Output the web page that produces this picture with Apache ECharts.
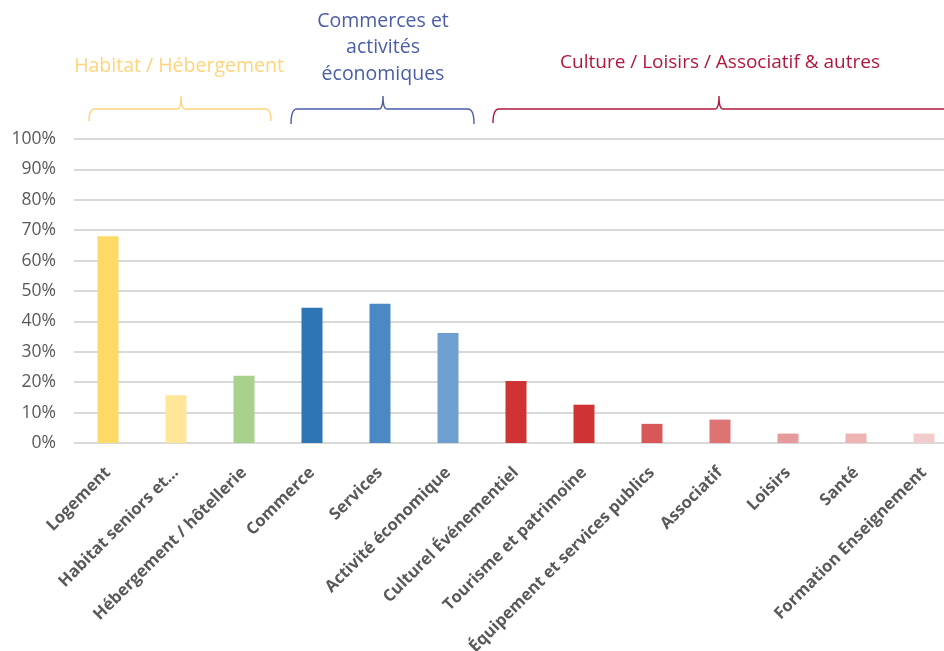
<!DOCTYPE html>
<html><head><meta charset="utf-8">
<script src="https://cdn.jsdelivr.net/npm/echarts@6/dist/echarts.min.js"></script>
<style>html,body{margin:0;padding:0;background:#fff}#c{width:944px;height:651px}</style>
</head><body><div id="c"></div>
<script>
var categories = ['Logement','Habitat seniors et…','Hébergement / hôtellerie','Commerce','Services','Activité économique','Culturel Événementiel','Tourisme et patrimoine','Équipement et services publics','Associatif','Loisirs','Santé','Formation Enseignement'];
var values = [68, 15.7, 22.1, 44.5, 45.8, 36.2, 20.4, 12.6, 6.3, 7.7, 3.1, 3.1, 3.1];
var barColors = ['#FFD966','#FFE699','#A9D18E','#2E75B6','#4A89C4','#6E9FCF','#D03333','#D03333','#D85858','#DE7373','#E59B9B','#EDB2B2','#F2CCCC'];
var groups = [
  {name:'Habitat / Hébergement', color:'#FFD47A'},
  {name:'Commerces et\nactivités\néconomiques', color:'#4A5DA8'},
  {name:'Culture / Loisirs / Associatif & autres', color:'#B3173B'}
];

var chart = echarts.init(document.getElementById('c'));
function quad(p0, p1, p2, n){
  var pts = [];
  for (var i = 0; i <= n; i++){
    var t = i / n, a = (1-t)*(1-t), b = 2*(1-t)*t, c = t*t;
    pts.push([a*p0[0]+b*p1[0]+c*p2[0], a*p0[1]+b*p1[1]+c*p2[1]]);
  }
  return pts;
}
function brace(x1, x2, xm, yTop, yEnd, yPeak, color){
  var r = 6, pts = [];
  pts = pts.concat(quad([x1,yEnd],[x1,yTop],[x1+r,yTop],8));
  pts = pts.concat(quad([xm-4,yTop],[xm,yTop],[xm,yPeak],6));
  pts = pts.concat(quad([xm,yPeak],[xm,yTop],[xm+4,yTop],6));
  pts = pts.concat(quad([x2-r,yTop],[x2,yTop],[x2,yEnd],8));
  return {type:'polyline', shape:{points:pts}, style:{stroke:color, lineWidth:1.4, fill:null}, silent:true};
}
var labelFont = '"Open Sans", sans-serif';
chart.setOption({
  animation:false,
  grid:{left:74, width:884, top:139, bottom:208, containLabel:false, outerBoundsMode:'none'},
  xAxis:{type:'category', data:categories,
    axisLine:{show:false}, axisTick:{show:false},
    axisLabel:{rotate:45, interval:0, margin:27, color:'#595959', fontWeight:'bold', fontSize:16.5, fontFamily:'"Open Sans", sans-serif'}},
  yAxis:{type:'value', min:0, max:100, interval:10,
    axisLine:{show:false}, axisTick:{show:false},
    axisLabel:{formatter:'{value}%', color:'#595959', fontSize:17.5, margin:18, fontFamily:'"Open Sans", sans-serif'},
    splitLine:{lineStyle:{color:'#D9D9D9', width:2}}},
  series:[{type:'bar', barWidth:21,
    data: values.map(function(v,i){return {value:v, itemStyle:{color:barColors[i]}};})}],
  graphic:[
    {type:'text', x:179, y:66, style:{text:groups[0].name, fill:groups[0].color, font:'19.5px '+labelFont, align:'center', verticalAlign:'middle'}},
    {type:'text', x:383, y:47.5, style:{text:groups[1].name, fill:groups[1].color, font:'19.5px '+labelFont, align:'center', verticalAlign:'middle', lineHeight:26.5}},
    {type:'text', x:720, y:63, style:{text:groups[2].name, fill:groups[2].color, font:'19px '+labelFont, align:'center', verticalAlign:'middle'}},
    brace(89, 271, 181, 109, 121, 96, groups[0].color),
    brace(291, 474, 383, 109, 124, 96, groups[1].color),
    brace(493, 952, 719, 109, 123, 96, groups[2].color)
  ]
});
</script></body></html>
